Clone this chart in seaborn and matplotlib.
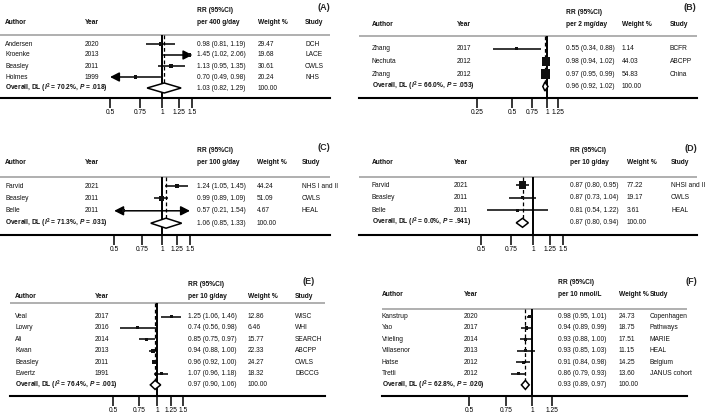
import numpy as np
import matplotlib
matplotlib.use("Agg")
import matplotlib.pyplot as plt
from matplotlib.ticker import NullLocator
import seaborn as sns

# ---- data ----
# (A) per 400 g/day
authors_a = ["Andersen", "Kroenke", "Beasley", "Holmes"]
years_a = [2020, 2013, 2011, 1999]
rr_a = [0.98, 1.45, 1.13, 0.70]
lo_a = [0.81, 1.02, 0.95, 0.49]
hi_a = [1.19, 2.06, 1.35, 0.98]
weights_a = [29.47, 19.68, 30.61, 20.24]
studies_a = ["DCH", "LACE", "CWLS", "NHS"]
overall_a = [1.03, 0.82, 1.29]
het_a = ["70.2%", ".018"]

# (B) per 2 mg/day
authors_b = ["Zhang", "Nechuta", "Zhang"]
years_b = [2017, 2012, 2012]
rr_b = [0.55, 0.98, 0.97]
lo_b = [0.34, 0.94, 0.95]
hi_b = [0.88, 1.02, 0.99]
weights_b = [1.14, 44.03, 54.83]
studies_b = ["BCFR", "ABCPP", "China"]
overall_b = [0.96, 0.92, 1.02]
het_b = ["66.0%", ".053"]

# (C) per 100 g/day
authors_c = ["Farvid", "Beasley", "Belle"]
years_c = [2021, 2011, 2011]
rr_c = [1.24, 0.99, 0.57]
lo_c = [1.05, 0.89, 0.21]
hi_c = [1.45, 1.09, 1.54]
weights_c = [44.24, 51.09, 4.67]
studies_c = ["NHS I and II", "CWLS", "HEAL"]
overall_c = [1.06, 0.85, 1.33]
het_c = ["71.3%", ".031"]

# (D) per 10 g/day
authors_d = ["Farvid", "Beasley", "Belle"]
years_d = [2021, 2011, 2011]
rr_d = [0.87, 0.87, 0.81]
lo_d = [0.80, 0.73, 0.54]
hi_d = [0.95, 1.04, 1.22]
weights_d = [77.22, 19.17, 3.61]
studies_d = ["NHSI and II", "CWLS", "HEAL"]
overall_d = [0.87, 0.80, 0.94]
het_d = ["0.0%", ".941"]

# (E) per 10 g/day
authors_e = ["Veal", "Lowry", "Ali", "Kwan", "Beasley", "Ewertz"]
years_e = [2017, 2016, 2014, 2013, 2011, 1991]
rr_e = [1.25, 0.74, 0.85, 0.94, 0.96, 1.07]
lo_e = [1.06, 0.56, 0.75, 0.88, 0.92, 0.96]
hi_e = [1.46, 0.98, 0.97, 1.00, 1.00, 1.18]
weights_e = [12.86, 6.46, 15.77, 22.33, 24.27, 18.32]
studies_e = ["WISC", "WHI", "SEARCH", "ABCPP", "CWLS", "DBCCG"]
overall_e = [0.97, 0.90, 1.06]
het_e = ["76.4%", ".001"]

# (F) per 10 nmol/L
authors_f = ["Kanstrup", "Yao", "Vrieling", "Villasenor", "Hatse", "Tretli"]
years_f = [2020, 2017, 2014, 2013, 2012, 2012]
rr_f = [0.98, 0.94, 0.93, 0.93, 0.91, 0.86]
lo_f = [0.95, 0.89, 0.88, 0.85, 0.84, 0.79]
hi_f = [1.01, 0.99, 1.00, 1.03, 0.98, 0.93]
weights_f = [24.73, 18.75, 17.51, 11.15, 14.25, 13.60]
studies_f = ["Copenhagen", "Pathways", "MARIE", "HEAL", "Belgium", "JANUS cohort"]
overall_f = [0.93, 0.89, 0.97]
het_f = ["62.8%", ".020"]

ticks_std = [0.5, 0.75, 1, 1.25, 1.5]
ticks_b = [0.25, 0.5, 0.75, 1, 1.25]
ticks_f = [0.5, 0.75, 1, 1.25]

# ---- layout (pixels inside each panel) ----
FIG_W, FIG_H = 709, 415
layouts = {
    "A": dict(box=(0, 0, 354, 135), cols=(5, 85, 197, 258, 305), head=(11, 23), tag=(330, 8),
              span=(0, 330), top=35, bottom=98, row0=44, step=11, one=162, scale=75,
              clip=(0.5, 1.5), box_k=0.7, dia=5),
    "B": dict(box=(354, 0, 355, 135), cols=(18, 103, 212, 268, 316), head=(13, 25), tag=(342, 8),
              span=(5, 343), top=36, bottom=98, row0=49, step=12.5, one=193, scale=50.5,
              clip=(0.2, 1.3), box_k=1.3, dia=4.5),
    "C": dict(box=(0, 135, 354, 135), cols=(5, 85, 197, 257, 302), head=(15, 27), tag=(330, 12),
              span=(0, 330), top=42, bottom=100, row0=51, step=12.4, one=162, scale=69,
              clip=(0.5, 1.5), box_k=0.7, dia=5),
    "D": dict(box=(354, 135, 355, 135), cols=(18, 100, 216, 273, 317), head=(15, 27), tag=(343, 13),
              span=(5, 343), top=42, bottom=100, row0=50, step=12.6, one=179, scale=75,
              clip=(0.5, 1.5), box_k=0.85, dia=4.5),
    "E": dict(box=(0, 270, 354, 145), cols=(15, 95, 188, 248, 295), head=(15, 26), tag=(315, 12),
              span=(10, 325), top=33, bottom=126, row0=46.5, step=11.4, one=157, scale=63.5,
              clip=(0.5, 1.5), box_k=0.8, dia=4.5),
    "F": dict(box=(354, 270, 355, 145), cols=(28, 110, 204, 265, 296), head=(13, 25), tag=(343, 12),
              span=(28, 333), top=39, bottom=126, row0=46.5, step=11.4, one=178, scale=91,
              clip=(0.5, 1.3), box_k=0.8, dia=4.5),
}

sns.set_style("white")
plt.rcParams["font.family"] = ["Liberation Sans", "DejaVu Sans"]
plt.rcParams["mathtext.fontset"] = "custom"
plt.rcParams["mathtext.rm"] = "Liberation Sans:bold"
plt.rcParams["mathtext.bf"] = "Liberation Sans:bold"
plt.rcParams["mathtext.it"] = "Liberation Sans:italic:bold"

fig = plt.figure(figsize=(FIG_W / 100, FIG_H / 100), dpi=100)
FS = 4.8


def draw_panel(tag, unit, authors, years, rr, lo, hi, weights, studies, overall, het, ticks):
    lay = layouts[tag]
    ox, oy, W, H = lay["box"]
    bottom = lay["bottom"]
    one, scale = lay["one"], lay["scale"]

    def to_rr(px):
        return np.exp((px - one) / scale)

    # table axes in panel pixels
    tab = fig.add_axes([ox / FIG_W, 1 - (oy + H) / FIG_H, W / FIG_W, H / FIG_H])
    tab.set_xlim(0, W)
    tab.set_ylim(H, 0)
    tab.axis("off")

    # forest axes: log RR on x, same pixel rows on y
    fx = fig.add_axes([ox / FIG_W, 1 - (oy + bottom) / FIG_H, W / FIG_W, bottom / FIG_H])
    fx.patch.set_alpha(0)
    fx.set_xscale("log")

    n = len(authors)
    rows = lay["row0"] + lay["step"] * np.arange(n + 1)
    yo = rows[n]
    c_auth, c_year, c_est, c_wt, c_study = lay["cols"]
    h1, h2 = lay["head"]

    bold = dict(fontsize=FS, fontweight="bold", va="center", color="#111111")
    plain = dict(fontsize=FS, va="center", color="#111111")
    tab.text(c_est, h1, "RR (95%CI)", **bold)
    tab.text(c_est, h2, unit, **bold)
    for x, s in zip((c_auth, c_year, c_wt, c_study), ("Author", "Year", "Weight %", "Study")):
        tab.text(x, h2, s, **bold)
    tab.text(lay["tag"][0], lay["tag"][1], f"({tag})", fontsize=6.5, fontweight="bold",
             ha="right", va="center")
    x0, x1 = lay["span"]
    tab.hlines(lay["top"], x0, x1, color="#9a9a9a", lw=1.1)

    for i in range(n):
        y = rows[i]
        tab.text(c_auth, y, authors[i], **plain)
        tab.text(c_year, y, str(years[i]), **plain)
        tab.text(c_est, y, f"{rr[i]:.2f} ({lo[i]:.2f}, {hi[i]:.2f})", **plain)
        tab.text(c_wt, y, f"{weights[i]:.2f}", **plain)
        tab.text(c_study, y, studies[i], **plain)
    tab.text(c_auth, yo, f"Overall, DL ($I^2$ = {het[0]}, $P$ = {het[1]})", **bold)
    tab.text(c_est, yo, f"{overall[0]:.2f} ({overall[1]:.2f}, {overall[2]:.2f})", **plain)
    tab.text(c_wt, yo, "100.00", **plain)

    # reference lines
    fx.vlines(1, lay["top"], bottom, color="black", lw=1.4, zorder=2)
    fx.vlines(overall[0], lay["top"], yo, color="black", lw=0.9, linestyles=(0, (3, 2)), zorder=2)

    # confidence intervals, arrows where they leave the scale
    cmin, cmax = lay["clip"]
    for i in range(n):
        a, b = max(lo[i], cmin), min(hi[i], cmax)
        style = ("<|" if lo[i] < cmin else "") + "-" + ("|>" if hi[i] > cmax else "")
        if style == "-":
            fx.hlines(rows[i], a, b, color="black", lw=1.1, zorder=2)
        else:
            fx.annotate("", xy=(b, rows[i]), xytext=(a, rows[i]),
                        arrowprops=dict(arrowstyle=style + ",head_length=0.55,head_width=0.28",
                                        color="black", lw=1.1, shrinkA=0, shrinkB=0))

    # weight boxes
    side_px = np.maximum(lay["box_k"] * np.sqrt(weights), 3.0)
    sizes = (side_px * 0.72) ** 2
    sns.scatterplot(x=rr, y=rows[:n], marker="s", s=sizes, color="#111111",
                    edgecolor="none", legend=False, ax=fx, zorder=3)

    # pooled diamond
    est, dlo, dhi = overall
    hh = lay["dia"]
    fx.fill([dlo, est, dhi, est], [yo, yo - hh, yo, yo + hh], facecolor="white",
            edgecolor="black", lw=1.1, zorder=3)

    fx.set_xlim(to_rr(0), to_rr(W))
    fx.set_ylim(bottom, 0)
    for side in ("top", "left", "right"):
        fx.spines[side].set_visible(False)
    fx.spines["bottom"].set_bounds(to_rr(x0), to_rr(x1))
    fx.spines["bottom"].set_linewidth(1.5)
    fx.spines["bottom"].set_color("black")
    fx.set_xticks(ticks)
    fx.set_xticklabels([f"{t:g}" for t in ticks])
    fx.xaxis.set_minor_locator(NullLocator())
    fx.set_yticks([])
    fx.set_xlabel("")
    fx.set_ylabel("")
    fx.tick_params(axis="x", direction="out", length=7, width=1.1, pad=1, labelsize=FS,
                   colors="black", bottom=True)


draw_panel("A", "per 400 g/day", authors_a, years_a, rr_a, lo_a, hi_a, weights_a, studies_a,
           overall_a, het_a, ticks_std)
draw_panel("B", "per 2 mg/day", authors_b, years_b, rr_b, lo_b, hi_b, weights_b, studies_b,
           overall_b, het_b, ticks_b)
draw_panel("C", "per 100 g/day", authors_c, years_c, rr_c, lo_c, hi_c, weights_c, studies_c,
           overall_c, het_c, ticks_std)
draw_panel("D", "per 10 g/day", authors_d, years_d, rr_d, lo_d, hi_d, weights_d, studies_d,
           overall_d, het_d, ticks_std)
draw_panel("E", "per 10 g/day", authors_e, years_e, rr_e, lo_e, hi_e, weights_e, studies_e,
           overall_e, het_e, ticks_std)
draw_panel("F", "per 10 nmol/L", authors_f, years_f, rr_f, lo_f, hi_f, weights_f, studies_f,
           overall_f, het_f, ticks_f)

fig.savefig("out.png", dpi=100, facecolor="white")
